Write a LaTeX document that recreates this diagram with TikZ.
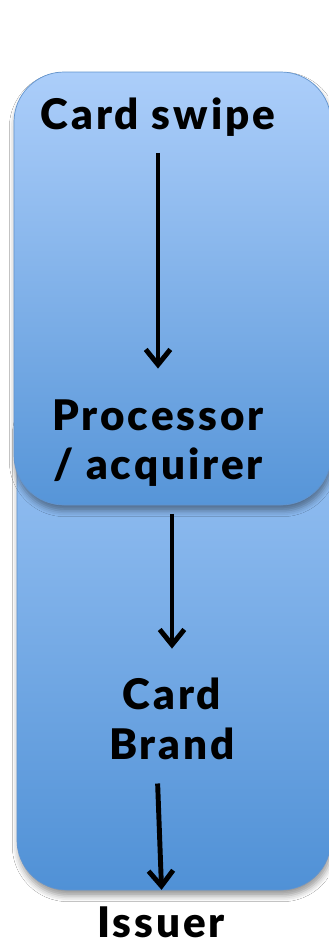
\documentclass[tikz,border=0pt]{standalone}
\usepackage{fontspec}
\setmainfont{Lato}[BoldFont={Lato Black}, BoldFeatures={LetterSpace=7}]
\usepackage{tikz}
\usetikzlibrary{arrows.meta,shadows.blur}

\definecolor{lighttop}{RGB}{172,206,250}
\definecolor{darktop}{RGB}{86,149,216}
\definecolor{lightlow}{RGB}{158,198,246}
\definecolor{darklow}{RGB}{80,145,214}
\definecolor{rimblue}{RGB}{98,148,206}

\begin{document}
\begin{tikzpicture}[x=0.03cm, y=-0.03cm,
    panel/.style={rounded corners=1.5cm, draw=rimblue, line width=0.6pt,
      blur shadow={shadow xshift=1pt, shadow yshift=-5pt, shadow blur radius=5pt, shadow opacity=40}},
    label/.style={font=\fontsize{36}{42.5}\selectfont\bfseries, align=center, inner sep=0pt},
    flow/.style={line width=4.2pt, -{Straight Barb[length=13pt, width=21pt]}}]
            \useasboundingbox[fill=white] (0,0) rectangle (328,944);
            % the two panels, lower one first
            \path[panel, top color=lightlow, bottom color=darklow] (17,380) rectangle (331,890);
            \path[panel, top color=lighttop, bottom color=darktop] (14,72) rectangle (331,505);
            % texts
            \node[label] (swipe) at (158,117) {Card swipe};
            \node[label] (proc) at (158,443) {Processor\\/ acquirer};
            \node[label] (brand) at (172,719) {Card\\Brand};
            \node[label] (issuer) at (161,922) {Issuer};
            % arrows
            \draw[flow, shorten <=14pt, shorten >=26pt] (swipe.south) -- (proc.north);
            \draw[flow, shorten <=23pt, shorten >=25pt] (proc.south -| brand) -- (brand.north);
            \draw[flow, shorten <=20pt, shorten >=14pt] ([xshift=-13pt]brand.south) -- ([xshift=1pt]issuer.north);
          \end{tikzpicture}
\end{document}
